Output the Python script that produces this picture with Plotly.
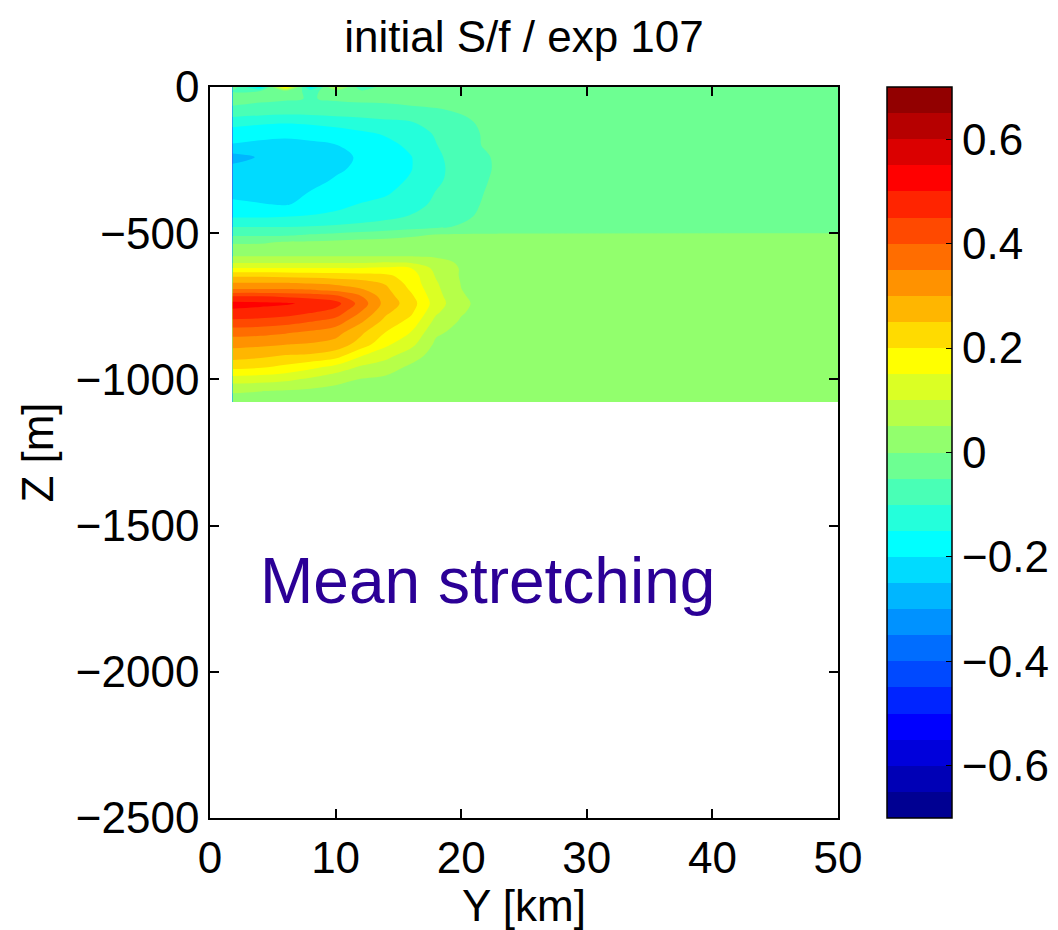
import numpy as np
import plotly.graph_objects as go

# ---------------- data ----------------
Y_KM = [1.8, 4, 6, 8, 10, 12, 14, 16, 18, 20, 22, 24, 50]
Z_M = [0, -15, -40, -80, -120, -160, -200, -240, -280, -320, -360, -400, -440,
       -480, -505, -530, -560, -580, -600, -620, -645, -670, -695, -715, -740,
       -770, -800, -840, -880, -920, -960, -1000, -1040, -1077]

row_0000 = [-0.02, -0.18, 0.2, -0.18, 0.08, -0.08, -0.03, -0.02, -0.02, -0.02, -0.02, -0.02, -0.02]
row_0015 = [-0.05, -0.04, -0.03, -0.06, -0.03, -0.04, -0.03, -0.025, -0.02, -0.02, -0.02, -0.02, -0.02]
row_0040 = [-0.035, -0.04, -0.045, -0.052, -0.045, -0.04, -0.04, -0.035, -0.03, -0.025, -0.02, -0.02, -0.02]
row_0080 = [-0.06, -0.07, -0.075, -0.075, -0.07, -0.07, -0.065, -0.06, -0.055, -0.045, -0.03, -0.02, -0.02]
row_0120 = [-0.13, -0.14, -0.145, -0.14, -0.13, -0.12, -0.11, -0.102, -0.08, -0.06, -0.04, -0.022, -0.02]
row_0160 = [-0.175, -0.185, -0.19, -0.185, -0.175, -0.16, -0.145, -0.125, -0.095, -0.065, -0.045, -0.025, -0.02]
row_0200 = [-0.205, -0.212, -0.215, -0.21, -0.202, -0.185, -0.165, -0.14, -0.102, -0.07, -0.045, -0.025, -0.02]
row_0240 = [-0.27, -0.245, -0.235, -0.225, -0.212, -0.195, -0.175, -0.152, -0.11, -0.075, -0.055, -0.025, -0.02]
row_0280 = [-0.235, -0.235, -0.232, -0.222, -0.208, -0.19, -0.178, -0.152, -0.113, -0.078, -0.056, -0.028, -0.02]
row_0320 = [-0.225, -0.228, -0.228, -0.215, -0.195, -0.185, -0.165, -0.145, -0.11, -0.075, -0.052, -0.028, -0.02]
row_0360 = [-0.215, -0.22, -0.222, -0.198, -0.185, -0.17, -0.155, -0.135, -0.098, -0.07, -0.048, -0.025, -0.02]
row_0400 = [-0.19, -0.198, -0.205, -0.185, -0.165, -0.148, -0.14, -0.12, -0.09, -0.065, -0.045, -0.025, -0.02]
row_0440 = [-0.16, -0.16, -0.155, -0.148, -0.14, -0.125, -0.115, -0.098, -0.08, -0.06, -0.04, -0.025, -0.02]
row_0480 = [-0.098, -0.098, -0.098, -0.095, -0.09, -0.085, -0.075, -0.065, -0.055, -0.045, -0.035, -0.025, -0.02]
row_0505 = [-0.06, -0.06, -0.058, -0.048, -0.04, -0.03, -0.02, -0.01, 0.002, 0.005, 0.005, 0.005, 0.005]
row_0530 = [-0.005, -0.005, 0.002, 0.005, 0.01, 0.015, 0.015, 0.02, 0.02, 0.02, 0.02, 0.02, 0.02]
row_0560 = [0.02, 0.02, 0.02, 0.02, 0.02, 0.02, 0.02, 0.02, 0.02, 0.02, 0.02, 0.02, 0.02]
row_0580 = [0.052, 0.052, 0.052, 0.052, 0.052, 0.052, 0.052, 0.052, 0.045, 0.035, 0.025, 0.02, 0.02]
row_0600 = [0.095, 0.095, 0.095, 0.095, 0.095, 0.095, 0.102, 0.095, 0.07, 0.042, 0.028, 0.02, 0.02]
row_0620 = [0.152, 0.152, 0.152, 0.152, 0.152, 0.152, 0.16, 0.152, 0.085, 0.046, 0.03, 0.02, 0.02]
row_0645 = [0.24, 0.24, 0.235, 0.23, 0.225, 0.22, 0.21, 0.175, 0.095, 0.045, 0.03, 0.02, 0.02]
row_0670 = [0.302, 0.302, 0.302, 0.295, 0.285, 0.27, 0.245, 0.18, 0.105, 0.048, 0.03, 0.02, 0.02]
row_0695 = [0.36, 0.36, 0.36, 0.355, 0.34, 0.31, 0.262, 0.195, 0.112, 0.051, 0.03, 0.02, 0.02]
row_0715 = [0.448, 0.448, 0.44, 0.43, 0.41, 0.352, 0.272, 0.21, 0.118, 0.055, 0.03, 0.02, 0.02]
row_0740 = [0.515, 0.51, 0.506, 0.49, 0.47, 0.38, 0.28, 0.225, 0.125, 0.062, 0.03, 0.02, 0.02]
row_0770 = [0.49, 0.485, 0.475, 0.455, 0.43, 0.348, 0.26, 0.21, 0.108, 0.055, 0.028, 0.02, 0.02]
row_0800 = [0.44, 0.435, 0.425, 0.405, 0.38, 0.31, 0.235, 0.185, 0.085, 0.045, 0.025, 0.02, 0.02]
row_0840 = [0.37, 0.365, 0.355, 0.34, 0.32, 0.26, 0.198, 0.148, 0.058, 0.035, 0.022, 0.02, 0.02]
row_0880 = [0.315, 0.31, 0.302, 0.295, 0.28, 0.23, 0.16, 0.115, 0.04, 0.03, 0.02, 0.02, 0.02]
row_0920 = [0.27, 0.26, 0.245, 0.24, 0.22, 0.152, 0.115, 0.07, 0.03, 0.025, 0.02, 0.02, 0.02]
row_0960 = [0.21, 0.202, 0.185, 0.16, 0.13, 0.09, 0.07, 0.04, 0.025, 0.02, 0.02, 0.02, 0.02]
row_1000 = [0.125, 0.12, 0.11, 0.09, 0.065, 0.048, 0.04, 0.03, 0.022, 0.02, 0.02, 0.02, 0.02]
row_1040 = [0.055, 0.051, 0.045, 0.04, 0.035, 0.03, 0.025, 0.02, 0.02, 0.02, 0.02, 0.02, 0.02]
row_1077 = [0.03, 0.03, 0.03, 0.03, 0.025, 0.02, 0.02, 0.02, 0.02, 0.02, 0.02, 0.02, 0.02]

S_OVER_F = [row_0000, row_0015, row_0040, row_0080, row_0120, row_0160, row_0200,
            row_0240, row_0280, row_0320, row_0360, row_0400, row_0440, row_0480,
            row_0505, row_0530, row_0560, row_0580, row_0600, row_0620, row_0645,
            row_0670, row_0695, row_0715, row_0740, row_0770, row_0800, row_0840,
            row_0880, row_0920, row_0960, row_1000, row_1040, row_1077]

LEVEL_MIN, LEVEL_MAX, LEVEL_STEP = -0.7, 0.7, 0.05
CBAR_TICKS = [-0.6, -0.4, -0.2, 0, 0.2, 0.4, 0.6]
X_TICKS = [0, 10, 20, 30, 40, 50]
Y_TICKS = [0, -500, -1000, -1500, -2000, -2500]

# ---------------- MATLAB jet(m) ----------------
def jet(m):
    n = int(np.ceil(m / 4))
    u = np.concatenate([np.arange(1, n + 1) / n, np.ones(n - 1), np.arange(n, 0, -1) / n])
    g = int(np.ceil(n / 2)) - (1 if m % 4 == 1 else 0) + np.arange(1, len(u) + 1)
    r = g + n
    b = g - n
    J = np.zeros((m, 3))
    gm = g <= m
    J[g[gm] - 1, 1] = u[gm]
    rm = r <= m
    J[r[rm] - 1, 0] = u[:rm.sum()]
    bm = b > 0
    J[b[bm] - 1, 2] = u[len(u) - bm.sum():]
    return ['rgb(%d,%d,%d)' % tuple(np.round(c * 255)) for c in J]

NB = int(round((LEVEL_MAX - LEVEL_MIN) / LEVEL_STEP))  # 28 bands
cols = jet(NB)

# colorscale for the contour fill (plotly samples band midpoints at (k+1)/(NB+1))
fill_scale = []
for i in range(NB + 2):
    c = cols[min(max(i - 1, 0), NB - 1)]
    fill_scale.append([i / (NB + 1), c])

# step colorscale for the colorbar
bar_scale = []
for k in range(NB):
    bar_scale.append([k / NB, cols[k]])
    bar_scale.append([(k + 1) / NB, cols[k]])

FONT = "Liberation Sans, Arial, Helvetica, sans-serif"
FS = 44

fig = go.Figure()
fig.add_trace(go.Contour(
    x=Y_KM, y=Z_M, z=S_OVER_F,
    autocontour=False,
    contours=dict(start=LEVEL_MIN, end=LEVEL_MAX, size=LEVEL_STEP,
                  coloring='fill', showlines=False),
    colorscale=fill_scale,
    line=dict(width=0),
    showscale=False,
    hoverinfo='skip',
))

fig.add_trace(go.Scatter(
    x=[-10, -10], y=[-100, -100], mode='markers',
    marker=dict(color=[LEVEL_MIN, LEVEL_MAX], colorscale=bar_scale,
                cmin=LEVEL_MIN, cmax=LEVEL_MAX, showscale=True, size=1,
                colorbar=dict(
                    x=(887 - 210) / 628, xanchor='left', xref='paper',
                    y=0.5, yanchor='middle', len=1, lenmode='fraction',
                    thickness=65, thicknessmode='pixels',
                    xpad=0, ypad=0,
                    outlinecolor='black', outlinewidth=1.5,
                    tickvals=CBAR_TICKS, ticks='inside', ticklen=6,
                    tickcolor='black',
                    tickfont=dict(family=FONT, size=FS, color='black'),
                )),
    showlegend=False, hoverinfo='skip', cliponaxis=True,
))

fig.add_annotation(
    x=22.1, y=-1690, xref='x', yref='y', text='Mean stretching',
    showarrow=False, xanchor='center', yanchor='middle',
    font=dict(family=FONT, size=64, color='#2b0096'),
)

fig.update_layout(
    width=1058, height=930,
    margin=dict(l=210, r=220, t=87, b=112, autoexpand=False),
    paper_bgcolor='white', plot_bgcolor='white',
    showlegend=False,
    title=dict(text='initial S/f / exp 107', x=0.5, xref='paper', xanchor='center',
               y=1 - 37 / 930, yanchor='middle',
               font=dict(family=FONT, size=FS, color='black')),
    font=dict(family=FONT, size=FS, color='black'),
)
fig.update_xaxes(
    range=[0, 50], tickvals=X_TICKS, ticks='inside', ticklen=9, tickwidth=1.5,
    tickcolor='black', showline=True, linecolor='black', linewidth=1.5,
    mirror='ticks', showgrid=False, zeroline=False,
    tickfont=dict(family=FONT, size=FS, color='black'),
    title=dict(text='Y [km]', standoff=4, font=dict(family=FONT, size=FS, color='black')),
)
fig.update_yaxes(
    range=[-2500, 0], tickvals=Y_TICKS, ticks='inside', ticklen=9, tickwidth=1.5,
    tickcolor='black', showline=True, linecolor='black', linewidth=1.5,
    mirror='ticks', showgrid=False, zeroline=False,
    tickfont=dict(family=FONT, size=FS, color='black'),
    title=dict(text='Z [m]', standoff=8, font=dict(family=FONT, size=FS, color='black')),
)

fig.write_html("out.html")
